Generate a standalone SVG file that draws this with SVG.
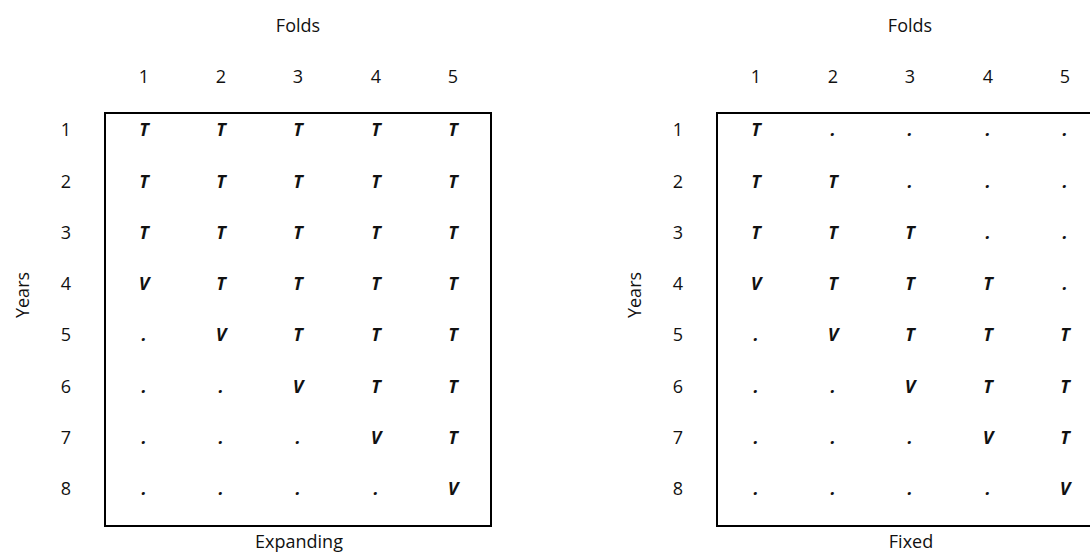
<svg xmlns="http://www.w3.org/2000/svg" width="1090" height="552" viewBox="0 0 1090 552">
<style>
text{font-family:"Open Sans","Liberation Sans",sans-serif;font-size:18px;fill:#111;text-anchor:middle}
.c{font-weight:bold;font-style:italic}
.box{fill:none;stroke:#000;stroke-width:2}
</style>
<rect width="1090" height="552" fill="#fff"/>
<g id="expanding">
<text x="298" y="32">Folds</text>
<text x="144" y="83">1</text><text x="221" y="83">2</text><text x="298" y="83">3</text><text x="376" y="83">4</text><text x="453" y="83">5</text>
<text transform="translate(29,295) rotate(-90)">Years</text>
<rect class="box" x="105" y="113" width="386" height="413"/>
<text x="66" y="136">1</text><text x="66" y="188">2</text><text x="66" y="239">3</text><text x="66" y="290">4</text><text x="66" y="341">5</text><text x="66" y="393">6</text><text x="66" y="444">7</text><text x="66" y="495">8</text>
<g class="c">
<text x="144" y="136">T</text><text x="221" y="136">T</text><text x="298" y="136">T</text><text x="376" y="136">T</text><text x="453" y="136">T</text>
<text x="144" y="188">T</text><text x="221" y="188">T</text><text x="298" y="188">T</text><text x="376" y="188">T</text><text x="453" y="188">T</text>
<text x="144" y="239">T</text><text x="221" y="239">T</text><text x="298" y="239">T</text><text x="376" y="239">T</text><text x="453" y="239">T</text>
<text x="144" y="290">V</text><text x="221" y="290">T</text><text x="298" y="290">T</text><text x="376" y="290">T</text><text x="453" y="290">T</text>
<text x="144" y="341">.</text><text x="221" y="341">V</text><text x="298" y="341">T</text><text x="376" y="341">T</text><text x="453" y="341">T</text>
<text x="144" y="393">.</text><text x="221" y="393">.</text><text x="298" y="393">V</text><text x="376" y="393">T</text><text x="453" y="393">T</text>
<text x="144" y="444">.</text><text x="221" y="444">.</text><text x="298" y="444">.</text><text x="376" y="444">V</text><text x="453" y="444">T</text>
<text x="144" y="495">.</text><text x="221" y="495">.</text><text x="298" y="495">.</text><text x="376" y="495">.</text><text x="453" y="495">V</text>
</g>
<text x="299" y="548">Expanding</text>
</g>
<g id="fixed" transform="translate(612,0)">
<text x="298" y="32">Folds</text>
<text x="144" y="83">1</text><text x="221" y="83">2</text><text x="298" y="83">3</text><text x="376" y="83">4</text><text x="453" y="83">5</text>
<text transform="translate(29,295) rotate(-90)">Years</text>
<rect class="box" x="105" y="113" width="386" height="413"/>
<text x="66" y="136">1</text><text x="66" y="188">2</text><text x="66" y="239">3</text><text x="66" y="290">4</text><text x="66" y="341">5</text><text x="66" y="393">6</text><text x="66" y="444">7</text><text x="66" y="495">8</text>
<g class="c">
<text x="144" y="136">T</text><text x="221" y="136">.</text><text x="298" y="136">.</text><text x="376" y="136">.</text><text x="453" y="136">.</text>
<text x="144" y="188">T</text><text x="221" y="188">T</text><text x="298" y="188">.</text><text x="376" y="188">.</text><text x="453" y="188">.</text>
<text x="144" y="239">T</text><text x="221" y="239">T</text><text x="298" y="239">T</text><text x="376" y="239">.</text><text x="453" y="239">.</text>
<text x="144" y="290">V</text><text x="221" y="290">T</text><text x="298" y="290">T</text><text x="376" y="290">T</text><text x="453" y="290">.</text>
<text x="144" y="341">.</text><text x="221" y="341">V</text><text x="298" y="341">T</text><text x="376" y="341">T</text><text x="453" y="341">T</text>
<text x="144" y="393">.</text><text x="221" y="393">.</text><text x="298" y="393">V</text><text x="376" y="393">T</text><text x="453" y="393">T</text>
<text x="144" y="444">.</text><text x="221" y="444">.</text><text x="298" y="444">.</text><text x="376" y="444">V</text><text x="453" y="444">T</text>
<text x="144" y="495">.</text><text x="221" y="495">.</text><text x="298" y="495">.</text><text x="376" y="495">.</text><text x="453" y="495">V</text>
</g>
<text x="299" y="548">Fixed</text>
</g>
</svg>
